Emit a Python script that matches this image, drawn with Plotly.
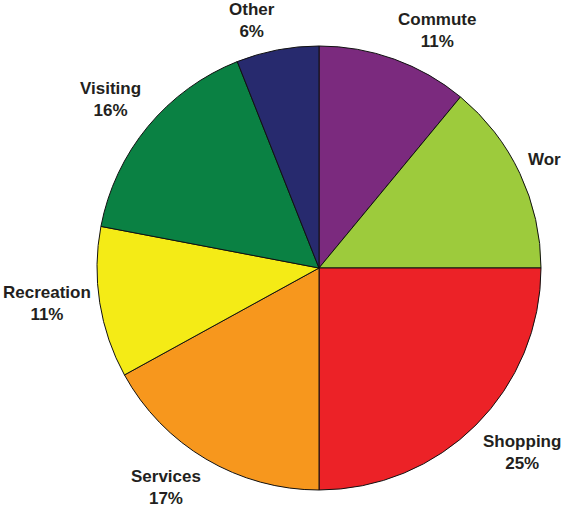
import math
import plotly.graph_objects as go

# Trip purpose shares (percent of all trips)
purposes = ["Commute", "Work", "Shopping", "Services", "Recreation", "Visiting", "Other"]
shares = [11, 14, 25, 17, 11, 16, 6]
# How each label's name and percentage are joined (line break or space)
label_joins = ["<br>", " ", "<br>", "<br>", "<br>", "<br>", "<br>"]
slice_colors = ["#7B2A7E", "#9DCB3C", "#EC2227", "#F7971D", "#F4EB16", "#0A8143", "#272A6E"]

W, H = 561, 509
cx, cy, R = 319, 268, 222  # pie centre and radius in pixels
FONT_SIZE = 17
LABEL_GAP = 8  # distance from the rim to the label's anchor corner

fig = go.Figure(
    go.Pie(
        labels=purposes,
        values=shares,
        sort=False,
        direction="clockwise",
        rotation=0,
        marker=dict(colors=slice_colors, line=dict(color="#111111", width=1)),
        textinfo="none",
        hoverinfo="label+percent",
        showlegend=False,
        domain=dict(x=[(cx - R) / W, (cx + R) / W],
                    y=[(H - cy - R) / H, (H - cy + R) / H]),
    )
)

# Category labels: the corner of each label nearest the pie sits on the
# slice's mid-angle ray, a little outside the rim
total = float(sum(shares))
cum = 0.0
annotations = []
for name, v, join in zip(purposes, shares, label_joins):
    mid = (cum + v / 2.0) / total * 2 * math.pi
    cum += v
    pct = f"{round(100 * v / total)}%"
    sx, sy = math.sin(mid), -math.cos(mid)
    reach = R + LABEL_GAP
    px, py = cx + sx * reach, cy + sy * reach
    xanchor = "left" if sx > 0.1 else ("right" if sx < -0.1 else "center")
    yanchor = "bottom" if sy < -0.3 else ("top" if sy > 0.3 else "middle")
    annotations.append(dict(
        text=f"{name}{join}{pct}",
        x=px / W, y=1 - py / H, xref="paper", yref="paper",
        xanchor=xanchor, yanchor=yanchor, showarrow=False, borderpad=0,
        font=dict(family="Liberation Sans, Arial, sans-serif", size=FONT_SIZE,
                  color="#231F20", weight="bold"),
    ))

fig.update_layout(
    width=W,
    height=H,
    autosize=False,
    margin=dict(l=0, r=0, t=0, b=0),
    paper_bgcolor="white",
    plot_bgcolor="white",
    annotations=annotations,
)

fig.write_html("out.html")
